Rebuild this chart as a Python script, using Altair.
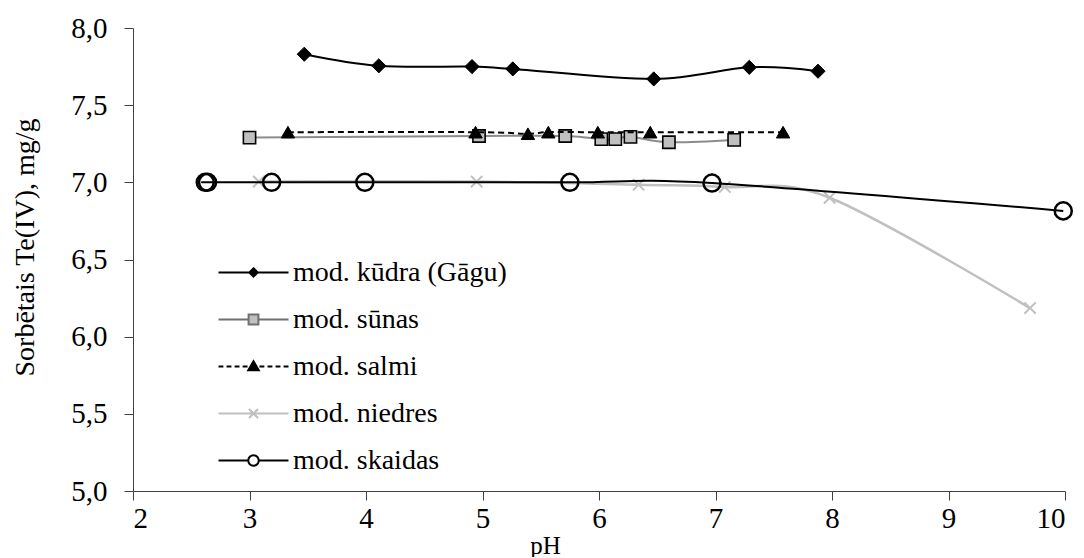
import altair as alt
import pandas as pd

# ---- data ----
names = ["mod. kūdra (Gāgu)", "mod. sūnas", "mod. salmi", "mod. niedres", "mod. skaidas"]

kudra_ph = [3.47, 4.11, 4.91, 5.26, 6.47, 7.29, 7.88]
kudra_q = [7.83, 7.755, 7.75, 7.735, 7.67, 7.745, 7.72]

sunas_ph = [3.00, 4.97, 5.71, 6.02, 6.14, 6.27, 6.60, 7.16]
sunas_q = [7.29, 7.30, 7.30, 7.28, 7.28, 7.295, 7.26, 7.275]

salmi_ph = [3.33, 4.94, 5.39, 5.565, 5.99, 6.44, 7.58]
salmi_q = [7.325, 7.325, 7.315, 7.325, 7.325, 7.325, 7.325]

niedres_ph = [3.08, 4.95, 6.34, 7.08, 7.98, 9.70]
niedres_q = [7.005, 7.005, 6.985, 6.97, 6.90, 6.185]

skaidas_ph = [2.62, 2.64, 3.19, 3.99, 5.75, 6.97, 9.985]
skaidas_q = [7.0, 7.0, 7.0, 7.0, 7.0, 6.995, 6.815]

x_ticks = [2, 3, 4, 5, 6, 7, 8, 9, 10]
y_ticks = [5.0, 5.5, 6.0, 6.5, 7.0, 7.5, 8.0]

FONT = "Liberation Serif"
AX = "#404040"


def frame(ph, q, name):
    return pd.DataFrame({"pH": ph, "q": q, "series": name})


x_enc = alt.X(
    "pH:Q",
    scale=alt.Scale(domain=[2, 10], nice=False, zero=False),
    axis=alt.Axis(
        values=x_ticks, format="d", title="pH", titleFontSize=25,
        titleX=412, titleY=54, titleAlign="center", titleBaseline="middle",
    ),
)
y_enc = alt.Y(
    "q:Q",
    scale=alt.Scale(domain=[5, 8], nice=False, zero=False),
    axis=alt.Axis(
        values=y_ticks,
        labelExpr="replace(format(datum.value, '.1f'), '.', ',')",
        title="Sorbētais Te(IV), mg/g", titleFontSize=28,
        titleX=-108, titleY=219, titleAlign="center", titleBaseline="middle", titleAngle=-90,
    ),
)


def series_layers(df, line_kw, pt_kw):
    base = alt.Chart(df).encode(x=x_enc, y=y_enc)
    line = base.mark_line(interpolate="cardinal", **line_kw)
    pts = base.mark_point(opacity=1, **pt_kw)
    return [line, pts]


cross_path = "M-1,-1L1,1M-1,1L1,-1"

layers = []
layers += series_layers(
    frame(kudra_ph, kudra_q, names[0]),
    dict(color="black", strokeWidth=2),
    dict(shape="diamond", size=200, filled=True, fill="black", stroke="black", strokeWidth=1),
)
layers += series_layers(
    frame(sunas_ph, sunas_q, names[1]),
    dict(color="#8c8c8c", strokeWidth=2),
    dict(shape="square", size=150, filled=True, fill="#c0c0c0", stroke="black", strokeWidth=1.6),
)
layers += series_layers(
    frame(salmi_ph, salmi_q, names[2]),
    dict(color="black", strokeWidth=2, strokeDash=[6, 4]),
    dict(shape="triangle-up", size=180, filled=True, fill="black", stroke="black", strokeWidth=1),
)
layers += series_layers(
    frame(niedres_ph, niedres_q, names[3]),
    dict(color="#c0c0c0", strokeWidth=2.5),
    dict(shape=cross_path, size=130, filled=False, fill="transparent", stroke="#c0c0c0", strokeWidth=2),
)
layers += series_layers(
    frame(skaidas_ph, skaidas_q, names[4]),
    dict(color="black", strokeWidth=2),
    dict(shape="circle", size=290, filled=False, fill="transparent", stroke="black", strokeWidth=2.5),
)

# ---- legend (line segment with marker in the middle, as in the reference) ----
# symbol unit = 17.5 px; the line runs from -2 to 2 units (70 px)
leg_paths = [
    "M-2,0H2M0,-0.24L0.24,0L0,0.24L-0.24,0Z",
    "M-2,0H-0.28M0.28,0H2M-0.28,-0.28H0.28V0.28H-0.28Z",
    "M-2,0H-1.72M-1.54,0H-1.26M-1.08,0H-0.80M-0.62,0H-0.34"
    "M0.34,0H0.62M0.80,0H1.08M1.26,0H1.54M1.72,0H2"
    "M0,-0.30L0.30,0.22L-0.30,0.22Z",
    "M-2,0H2M-0.26,-0.26L0.26,0.26M-0.26,0.26L0.26,-0.26",
    "M-2,0H-0.30M0.30,0H2M0.30,0A0.30,0.30 0 1,1 -0.30,0A0.30,0.30 0 1,1 0.30,0",
]
leg_fill = ["black", "#c0c0c0", "black", "transparent", "white"]
leg_stroke = ["black", "#707070", "black", "#c0c0c0", "black"]

legend = alt.Legend(
    title=None, orient="none", legendX=102, legendY=226, padding=0,
    symbolSize=1225, symbolStrokeWidth=2, rowPadding=14, labelOffset=21,
    labelLimit=400,
)
legend_layer = (
    alt.Chart(pd.DataFrame({"series": names}))
    .mark_point(opacity=1, size=1225, filled=True)
    .encode(
        shape=alt.Shape("series:N", scale=alt.Scale(domain=names, range=leg_paths), legend=legend),
        fill=alt.Fill("series:N", scale=alt.Scale(domain=names, range=leg_fill), legend=legend),
        stroke=alt.Stroke("series:N", scale=alt.Scale(domain=names, range=leg_stroke), legend=legend),
    )
    .transform_filter("false")
)
layers.append(legend_layer)

chart = (
    alt.layer(*layers)
    .properties(
        width=932, height=463,
        autosize=alt.AutoSizeParams(type="none"),
        padding={"left": 125, "top": 20, "right": 11, "bottom": 66},
        background="white",
    )
    .configure_view(stroke=None)
    .configure_axis(
        grid=False, domainColor=AX, tickColor=AX, tickSize=9,
        labelFont=FONT, labelFontSize=29, labelColor="black",
        titleFont=FONT, titleFontWeight="normal", titleColor="black",
    )
    .configure_axisX(labelPadding=4)
    .configure_axisY(labelPadding=17)
    .configure_legend(labelFont=FONT, labelFontSize=28, labelColor="black")
)

chart.save("out.html", embed_options={"renderer": "svg", "actions": False})
